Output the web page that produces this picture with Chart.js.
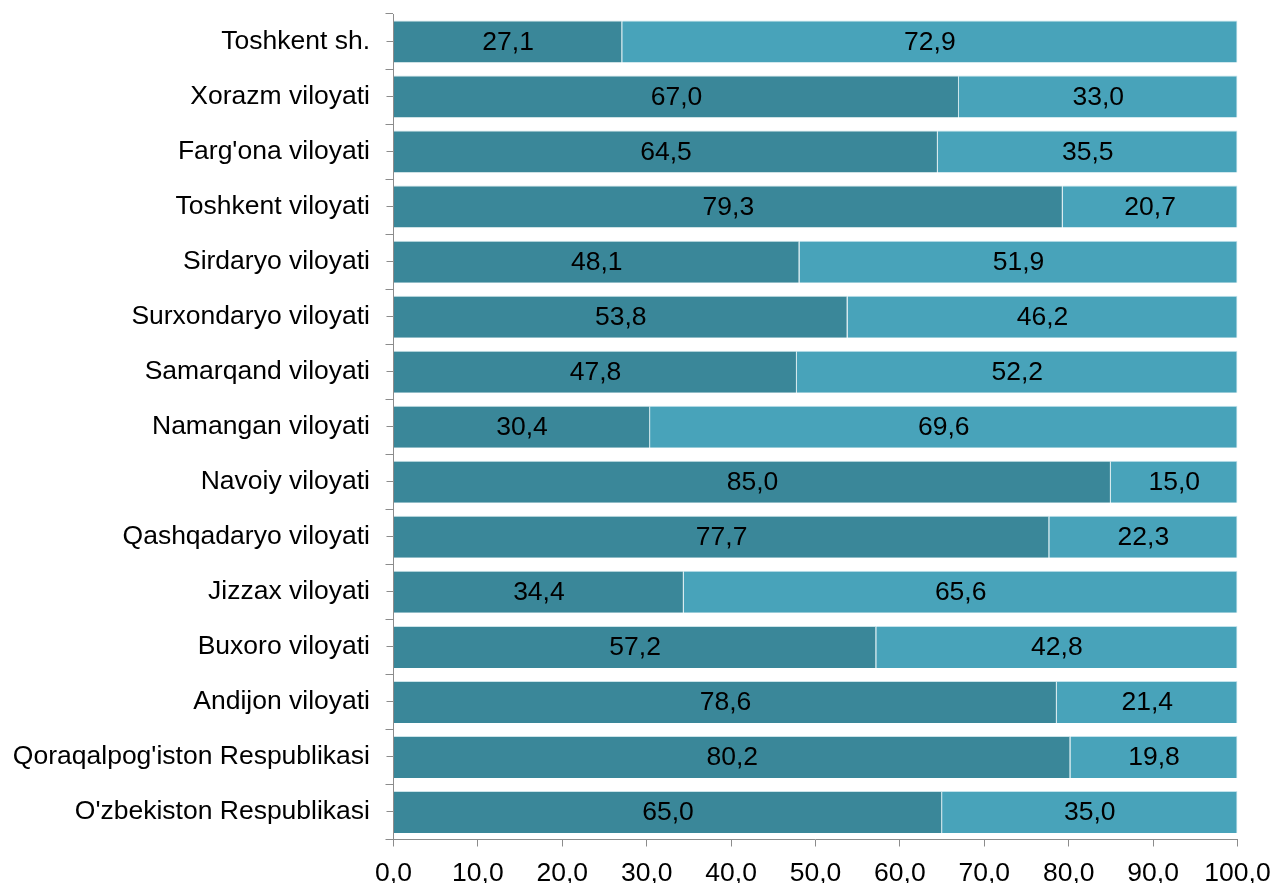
<!DOCTYPE html>
<html>
<head>
<meta charset="utf-8">
<script src="https://cdn.jsdelivr.net/npm/chart.js@4.4.1/dist/chart.umd.min.js"></script>
<style>
  html, body { margin: 0; padding: 0; background: #ffffff; }
  #wrap { width: 1274px; height: 883px; position: relative; }
</style>
</head>
<body>
<div id="wrap"><canvas id="c"></canvas></div>
<script>
const categories = [
  "Toshkent sh.",
  "Xorazm viloyati",
  "Farg'ona viloyati",
  "Toshkent viloyati",
  "Sirdaryo viloyati",
  "Surxondaryo viloyati",
  "Samarqand viloyati",
  "Namangan viloyati",
  "Navoiy viloyati",
  "Qashqadaryo viloyati",
  "Jizzax viloyati",
  "Buxoro viloyati",
  "Andijon viloyati",
  "Qoraqalpog'iston Respublikasi",
  "O'zbekiston Respublikasi"
];
const seriesA = [27.1, 67.0, 64.5, 79.3, 48.1, 53.8, 47.8, 30.4, 85.0, 77.7, 34.4, 57.2, 78.6, 80.2, 65.0];
const seriesB = [72.9, 33.0, 35.5, 20.7, 51.9, 46.2, 52.2, 69.6, 15.0, 22.3, 65.6, 42.8, 21.4, 19.8, 35.0];
const xTicks = [0, 10, 20, 30, 40, 50, 60, 70, 80, 90, 100];

const FONT = "'Liberation Sans', Arial, Helvetica, sans-serif";
const AXIS_GREY = '#8c8c8c';
const fmt = v => Number(v).toFixed(1).replace('.', ',');

const valueLabels = {
  id: 'valueLabels',
  afterDatasetsDraw(chart) {
    const ctx = chart.ctx;
    ctx.save();
    ctx.font = '26.5px ' + FONT;
    ctx.fillStyle = '#000000';
    ctx.textAlign = 'center';
    ctx.textBaseline = 'middle';
    chart.data.datasets.forEach((ds, di) => {
      const meta = chart.getDatasetMeta(di);
      meta.data.forEach((el, i) => {
        const p = el.getCenterPoint();
        ctx.fillText(fmt(ds.data[i]), p.x, p.y + 1);
      });
    });
    ctx.restore();
  }
};

const zeroPad = s => { s.paddingTop = 0; s.paddingBottom = 0; s.paddingLeft = 0; s.paddingRight = 0; };

new Chart(document.getElementById('c'), {
  type: 'bar',
  data: {
    labels: categories,
    datasets: [
      { label: 'A', data: seriesA, backgroundColor: '#3a8799', borderColor: 'rgba(160,205,215,0.55)', borderWidth: {top: 1, right: 1, bottom: 0, left: 0}, borderSkipped: false, barPercentage: 0.763, categoryPercentage: 1.0 },
      { label: 'B', data: seriesB, backgroundColor: '#48a3ba', borderColor: 'rgba(170,215,228,0.7)', borderWidth: {top: 1, right: 1, bottom: 0, left: 0}, borderSkipped: false, barPercentage: 0.763, categoryPercentage: 1.0 }
    ]
  },
  options: {
    indexAxis: 'y',
    responsive: true,
    maintainAspectRatio: false,
    animation: false,
    layout: { padding: { top: 14, right: 36.5, left: 0, bottom: 0 } },
    plugins: { legend: { display: false }, tooltip: { enabled: false } },
    scales: {
      x: {
        stacked: true,
        min: 0, max: 100,
        afterBuildTicks: s => { s.ticks = xTicks.map(v => ({ value: v })); },
        afterFit: s => { s.height = 43.5; zeroPad(s); },
        border: { display: true, color: AXIS_GREY, width: 1 },
        grid: { display: true, drawOnChartArea: false, drawTicks: true, tickLength: 7, color: AXIS_GREY, lineWidth: 1 },
        ticks: { padding: 11, color: '#000000', font: { family: FONT, size: 26.5 }, callback: v => fmt(v), maxRotation: 0, autoSkip: false }
      },
      y: {
        stacked: true,
        type: 'category',
        position: 'left',
        weight: 1,
        offset: true,
        afterFit: s => { s.width = 393.5; zeroPad(s); },
        border: { display: true, color: AXIS_GREY, width: 1 },
        grid: { display: true, offset: true, drawOnChartArea: false, drawTicks: true, tickLength: 8, color: AXIS_GREY, lineWidth: 1 },
        ticks: { padding: 15.5, color: '#000000', font: { family: FONT, size: 26.5 }, autoSkip: false }
      },
      y2: {
        type: 'category',
        labels: categories,
        position: 'left',
        weight: 0,
        offset: true,
        afterFit: s => { s.width = 0; zeroPad(s); },
        border: { display: false },
        grid: { display: true, offset: false, drawOnChartArea: false, drawTicks: true, tickLength: 7, color: AXIS_GREY, lineWidth: 1 },
        ticks: { display: false }
      }
    }
  },
  plugins: [valueLabels]
});
</script>
</body>
</html>
